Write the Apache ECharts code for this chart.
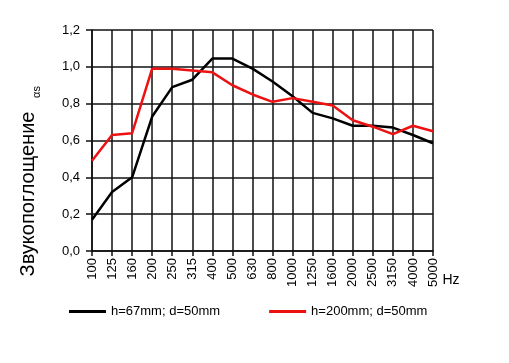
<!DOCTYPE html>
<html><head><meta charset="utf-8">
<script src="https://cdn.jsdelivr.net/npm/echarts@6/dist/echarts.min.js"></script>
<style>html,body{margin:0;padding:0;background:#fff}#c{width:509px;height:363px}</style>
</head><body><div id="c"></div>
<script>
const categories = ['100','125','160','200','250','315','400','500','630','800','1000','1250','1600','2000','2500','3150','4000','5000'];
const series67 = [0.17,0.32,0.40,0.73,0.89,0.93,1.045,1.045,0.99,0.92,0.84,0.75,0.72,0.68,0.68,0.67,0.63,0.585];
const series200 = [0.49,0.63,0.64,0.99,0.99,0.98,0.97,0.90,0.85,0.81,0.83,0.81,0.79,0.71,0.675,0.635,0.68,0.65];
const seriesNames = ['h=67mm; d=50mm','h=200mm; d=50mm'];
const yTicks = {min:0, max:1.2, interval:0.2};
const FONT = '"Liberation Sans", Arial, sans-serif';
const chart = echarts.init(document.getElementById('c'), null, {renderer:'canvas'});
chart.setOption({
  animation:false,
  backgroundColor:'#fff',
  textStyle:{fontFamily:FONT},
  grid:{left:92,right:76,top:30,bottom:112,containLabel:false},
  legend:{
    data:seriesNames, bottom:40, left:64, itemWidth:37, itemHeight:3, itemGap:49,
    textStyle:{fontFamily:FONT,fontSize:13,color:'#000'}, icon:'rect'
  },
  xAxis:{
    type:'category', data:categories, boundaryGap:false,
    name:'Hz', nameLocation:'end', nameGap:8,
    nameTextStyle:{fontFamily:FONT,fontSize:14,color:'#000',align:'left',verticalAlign:'top',padding:[22,0,0,0]},
    axisLine:{lineStyle:{color:'#111',width:1.5}},
    axisTick:{show:true,inside:false,length:5,lineStyle:{color:'#111',width:1.5}},
    axisLabel:{rotate:90,interval:0,margin:7,fontFamily:FONT,fontSize:13,color:'#000'},
    splitLine:{show:true,lineStyle:{color:'#111',width:1.5}}
  },
  yAxis:{
    type:'value', min:yTicks.min, max:yTicks.max, interval:yTicks.interval,
    axisLine:{show:true,lineStyle:{color:'#111',width:1.5}},
    axisTick:{show:true,length:6,lineStyle:{color:'#111',width:1.5}},
    axisLabel:{margin:12,fontFamily:FONT,fontSize:13,color:'#000',formatter:v=>v.toFixed(1).replace('.',',')},
    splitLine:{show:true,lineStyle:{color:'#111',width:1.5}}
  },
  graphic:[{
    type:'text', x:28, y:194, rotation:Math.PI/2,
    style:{text:'Звукопоглощение',align:'center',verticalAlign:'middle',font:'20px "Liberation Sans", Arial, sans-serif',fill:'#000'}
  },{
    type:'text', x:37, y:92, rotation:Math.PI/2,
    style:{text:'αs',align:'center',verticalAlign:'middle',font:'11px "Liberation Sans", Arial, sans-serif',fill:'#000'}
  }],
  series:[
    {name:seriesNames[0],type:'line',data:series67,symbol:'none',lineStyle:{color:'#000',width:2.5},itemStyle:{color:'#000'}},
    {name:seriesNames[1],type:'line',data:series200,symbol:'none',lineStyle:{color:'#ee1111',width:2.5},itemStyle:{color:'#ee1111'}}
  ]
});
</script></body></html>
